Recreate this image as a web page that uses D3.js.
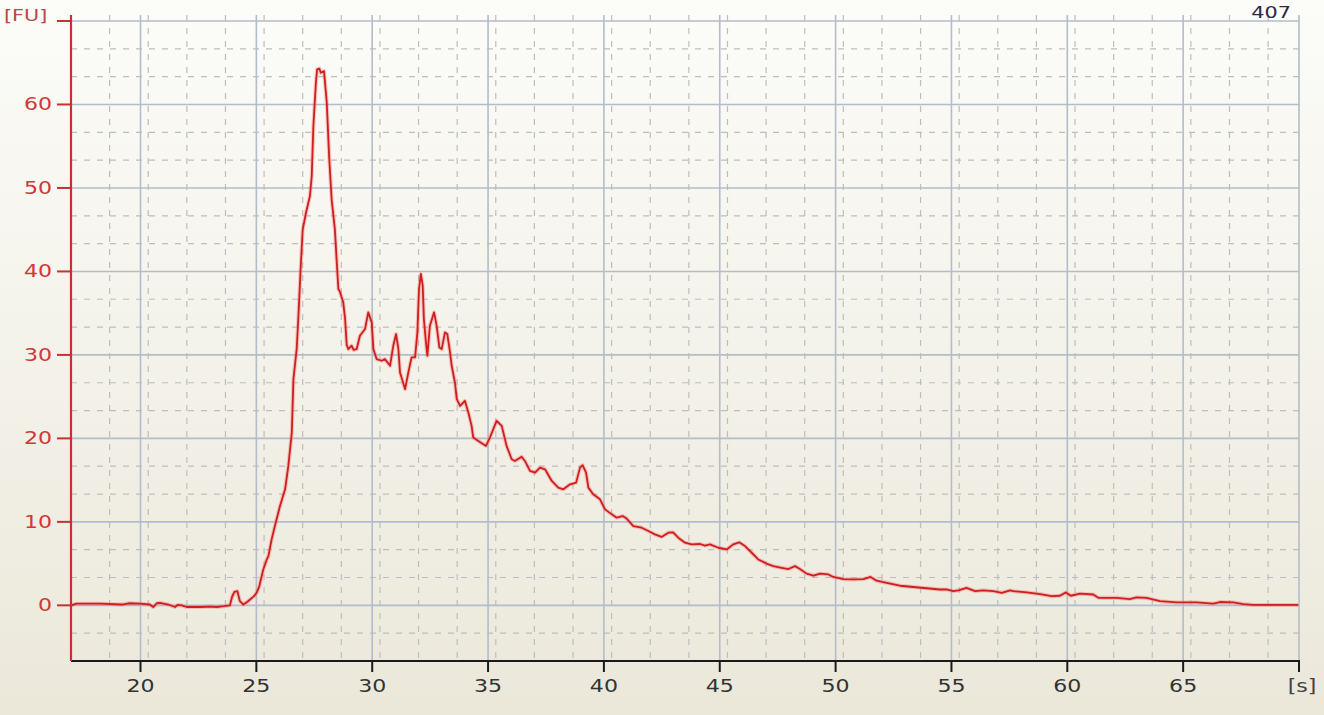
<!DOCTYPE html>
<html>
<head>
<meta charset="utf-8">
<script src="https://cdn.jsdelivr.net/npm/d3@7"></script>
<style>
  html, body { margin: 0; padding: 0; background: #efece0; }
  svg { display: block; }
</style>
</head>
<body>
<div id="chart"></div>
<script>
// electropherogram trace
const timeS = [17.0, 17.24, 18.25, 19.2, 19.5, 19.98, 20.4, 20.55, 20.7, 20.84, 21.2, 21.49, 21.6, 21.78, 21.99, 22.6, 23.0, 23.29, 23.6, 23.86,
  23.95, 24.05, 24.18, 24.29, 24.44, 24.6, 24.73, 24.9, 25.01, 25.13, 25.16, 25.3, 25.45, 25.52, 25.66, 25.8, 26.02, 26.24, 26.38, 26.53,
  26.6, 26.74, 26.81, 26.91, 27.0, 27.14, 27.31, 27.39, 27.46, 27.57, 27.62, 27.72, 27.78, 27.92, 28.04, 28.14, 28.25, 28.39, 28.47, 28.54,
  28.6, 28.75, 28.83, 28.9, 28.97, 29.11, 29.2, 29.33, 29.47, 29.69, 29.83, 29.98, 30.05, 30.19, 30.41, 30.55, 30.77, 30.91, 31.03, 31.13,
  31.2, 31.42, 31.56, 31.7, 31.85, 31.95, 32.02, 32.1, 32.18, 32.23, 32.32, 32.38, 32.49, 32.67, 32.78, 32.9, 33.0, 33.14, 33.24, 33.36,
  33.43, 33.57, 33.65, 33.79, 34.0, 34.15, 34.29, 34.36, 34.58, 34.91, 35.08, 35.37, 35.59, 35.8, 36.02, 36.16, 36.45, 36.59, 36.81, 37.03,
  37.24, 37.46, 37.75, 38.03, 38.25, 38.54, 38.8, 38.97, 39.08, 39.23, 39.33, 39.54, 39.83, 40.05, 40.34, 40.55, 40.81, 40.98, 41.27, 41.63,
  41.92, 42.2, 42.49, 42.78, 42.99, 43.21, 43.5, 43.79, 44.15, 44.36, 44.58, 44.94, 45.3, 45.58, 45.84, 46.09, 46.38, 46.66, 47.02, 47.31,
  47.67, 47.96, 48.25, 48.46, 48.75, 49.04, 49.33, 49.69, 49.9, 50.33, 50.76, 51.2, 51.51, 51.77, 52.2, 52.78, 53.35, 53.93, 54.5, 54.79,
  55.08, 55.3, 55.65, 56.02, 56.38, 56.81, 57.17, 57.53, 57.67, 58.25, 58.82, 59.33, 59.68, 59.94, 60.15, 60.55, 61.12, 61.34, 62.13, 62.7,
  62.99, 63.42, 64.0, 64.72, 65.58, 66.3, 66.59, 67.16, 67.6, 68.03, 69.97];
const fu = [0.0, 0.2, 0.2, 0.1, 0.25, 0.2, 0.1, -0.2, 0.25, 0.3, 0.1, -0.2, 0.05, 0.0, -0.2, -0.2, -0.15, -0.2, -0.1, 0.0,
  1.0, 1.6, 1.7, 0.5, 0.1, 0.4, 0.7, 1.1, 1.5, 2.3, 2.7, 4.3, 5.5, 5.9, 7.9, 9.5, 11.9, 13.9, 16.7, 20.7,
  27.1, 30.7, 34.3, 40.3, 45.0, 47.0, 49.0, 51.4, 57.4, 62.6, 64.2, 64.3, 63.8, 64.0, 60.2, 53.8, 48.6, 45.0, 41.1, 37.9,
  37.6, 36.3, 34.3, 31.2, 30.7, 31.1, 30.6, 30.7, 32.3, 33.1, 35.1, 33.9, 30.7, 29.5, 29.3, 29.5, 28.7, 31.1, 32.5, 30.7,
  27.9, 25.9, 27.9, 29.7, 29.7, 32.7, 37.9, 39.7, 38.3, 34.3, 31.5, 29.9, 33.5, 35.1, 33.5, 30.9, 30.7, 32.7, 32.5, 30.3,
  28.7, 26.7, 24.7, 23.9, 24.5, 23.1, 21.5, 20.1, 19.7, 19.1, 20.1, 22.1, 21.5, 19.1, 17.5, 17.3, 17.8, 17.3, 16.1, 15.9,
  16.5, 16.3, 14.9, 14.1, 13.9, 14.5, 14.7, 16.5, 16.8, 15.9, 14.1, 13.3, 12.7, 11.5, 10.9, 10.5, 10.7, 10.4, 9.5, 9.3,
  8.9, 8.5, 8.2, 8.7, 8.75, 8.1, 7.5, 7.3, 7.35, 7.15, 7.3, 6.9, 6.7, 7.3, 7.55, 7.1, 6.3, 5.5, 5.0, 4.7,
  4.5, 4.35, 4.7, 4.35, 3.8, 3.55, 3.8, 3.7, 3.4, 3.15, 3.1, 3.15, 3.4, 2.95, 2.7, 2.35, 2.2, 2.05, 1.9, 1.9,
  1.7, 1.8, 2.1, 1.7, 1.8, 1.7, 1.5, 1.8, 1.7, 1.55, 1.35, 1.1, 1.15, 1.55, 1.15, 1.4, 1.3, 0.9, 0.9, 0.75,
  0.95, 0.9, 0.5, 0.35, 0.35, 0.2, 0.4, 0.35, 0.15, 0.05, 0.05];

const xTicks = [20, 25, 30, 35, 40, 45, 50, 55, 60, 65];
const yTicks = [0, 10, 20, 30, 40, 50, 60];
const yMajor = [0, 10, 20, 30, 40, 50, 60, 70];
const xDomain = [17, 70];
const yDomain = [-20 / 3, 70];
const cornerText = "407";

const W = 1324, H = 715;
const mLeft = 71, mRight = 1299, mTop = 21, mBottom = 661;
const stretch = 1.3; // the source render is widened horizontally
const font = "DejaVu Sans, Verdana, sans-serif";

const svg = d3.select("#chart").append("svg")
  .attr("width", W).attr("height", H);

const grad = svg.append("defs").append("linearGradient")
  .attr("id", "bg").attr("x1", 0).attr("y1", 0).attr("x2", 0).attr("y2", 1);
grad.append("stop").attr("offset", "0%").attr("stop-color", "#fcfcf9");
grad.append("stop").attr("offset", "100%").attr("stop-color", "#ebe8da");
svg.append("rect").attr("width", W).attr("height", H).attr("fill", "url(#bg)");

const x = d3.scaleLinear().domain(xDomain).range([mLeft, mRight]);
const y = d3.scaleLinear().domain(yDomain).range([mBottom, mTop]);

// minor dashed grid, every third of a major step
const xMinor = d3.range(xDomain[0], xDomain[1] + 0.01, 5 / 3).filter(v => Math.abs(v / 5 - Math.round(v / 5)) > 0.01 && v > xDomain[0] + 0.1);
const yMinor = d3.range(yDomain[0], yDomain[1] + 0.01, 10 / 3).filter(v => Math.abs(v / 10 - Math.round(v / 10)) > 0.01 && v > yDomain[0] + 0.1);

const grid = svg.append("g");
grid.selectAll(".xm").data(xMinor).join("line")
  .attr("x1", d => x(d)).attr("x2", d => x(d))
  .attr("y1", mTop - 6).attr("y2", mBottom)
  .attr("stroke", "#bdbdbd").attr("stroke-width", 1.2).attr("stroke-dasharray", "6,7");
grid.selectAll(".ym").data(yMinor).join("line")
  .attr("x1", mLeft).attr("x2", mRight)
  .attr("y1", d => y(d)).attr("y2", d => y(d))
  .attr("stroke", "#bdbdbd").attr("stroke-width", 1.2).attr("stroke-dasharray", "6,7");
grid.selectAll(".xM").data(xTicks.concat([70])).join("line")
  .attr("x1", d => x(d)).attr("x2", d => x(d))
  .attr("y1", mTop - 6).attr("y2", mBottom)
  .attr("stroke", "#b4bccb").attr("stroke-width", 1.6);
grid.selectAll(".yM").data(yMajor).join("line")
  .attr("x1", mLeft).attr("x2", mRight)
  .attr("y1", d => y(d)).attr("y2", d => y(d))
  .attr("stroke", "#b4bccb").attr("stroke-width", 1.6);

// trace
const pts = timeS.map((t, i) => [t, fu[i]]);
const line = d3.line().x(d => x(d[0])).y(d => y(d[1]));
svg.append("path").datum(pts)
  .attr("d", line).attr("fill", "none")
  .attr("stroke", "#ff6060").attr("stroke-opacity", 0.35).attr("stroke-width", 4)
  .attr("stroke-linejoin", "round");
svg.append("path").datum(pts)
  .attr("d", line).attr("fill", "none")
  .attr("stroke", "#cc1f1f").attr("stroke-width", 1.8)
  .attr("stroke-linejoin", "round");

// x axis
svg.append("line")
  .attr("x1", mLeft).attr("x2", mRight + 1).attr("y1", mBottom).attr("y2", mBottom)
  .attr("stroke", "#1a1a1a").attr("stroke-width", 2);
svg.selectAll(".xt").data(xTicks.concat([70])).join("line")
  .attr("x1", d => x(d)).attr("x2", d => x(d))
  .attr("y1", mBottom).attr("y2", mBottom + 11)
  .attr("stroke", "#1a1a1a").attr("stroke-width", 2);
svg.selectAll(".xl").data(xTicks).join("text")
  .attr("transform", d => `translate(${x(d)},${mBottom + 31}) scale(${stretch},1)`)
  .attr("text-anchor", "middle")
  .style("font-family", font)
  .style("font-size", "17px").attr("fill", "#333")
  .text(d => d);
svg.append("text")
  .attr("transform", `translate(${mRight + 3},${mBottom + 31}) scale(${stretch},1)`)
  .attr("text-anchor", "middle")
  .style("font-family", font)
  .style("font-size", "17px").attr("fill", "#444")
  .text("[s]");

// y axis
svg.append("line")
  .attr("x1", mLeft).attr("x2", mLeft).attr("y1", mTop - 6).attr("y2", mBottom)
  .attr("stroke", "#c43232").attr("stroke-width", 2.2);
svg.selectAll(".yt").data(yMajor).join("line")
  .attr("x1", mLeft - 14).attr("x2", mLeft)
  .attr("y1", d => y(d)).attr("y2", d => y(d))
  .attr("stroke", "#c43232").attr("stroke-width", 2);
svg.selectAll(".yl").data(yTicks).join("text")
  .attr("transform", d => `translate(${mLeft - 19},${y(d) + 6}) scale(${stretch},1)`)
  .attr("text-anchor", "end")
  .style("font-family", font)
  .style("font-size", "17px").attr("fill", "#d03838")
  .text(d => d);
svg.append("text")
  .attr("transform", `translate(4,${mTop}) scale(${stretch},1)`)
  .style("font-family", font)
  .style("font-size", "16px").attr("fill", "#b84848")
  .text("[FU]");

svg.append("text")
  .attr("transform", `translate(${mRight - 8},${mTop - 3}) scale(${stretch},1)`)
  .attr("text-anchor", "end")
  .style("font-family", font)
  .style("font-size", "16px").attr("fill", "#2a2a4a")
  .text(cornerText);
</script>
</body>
</html>
